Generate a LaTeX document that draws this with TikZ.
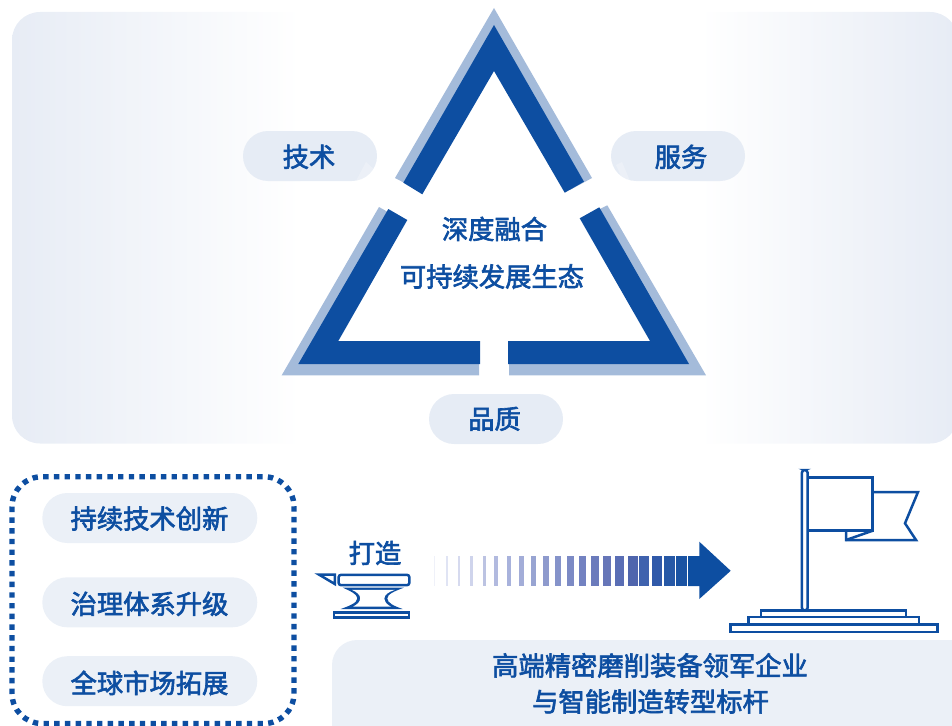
\documentclass[tikz,border=0pt]{standalone}
\usepackage{fontspec}
\newfontfamily\cjk[FakeBold=2.4]{Noto Sans CJK SC}
\definecolor{bluedk}{HTML}{0D4EA1}
\definecolor{bluelt}{HTML}{A4BBDA}
\definecolor{pillc}{HTML}{E6ECF5}
\definecolor{pillb}{HTML}{EBF0F7}
\definecolor{panelc}{HTML}{E7ECF5}
\tikzset{
 lbl/.style={font=\cjk\fontsize{26.3}{28}\selectfont,text=bluedk,inner sep=0pt,text height=23.1pt,text depth=2.1pt,anchor=center},
 pill/.style={fill=pillc,rounded corners=25pt,minimum height=50pt,inner sep=0pt,anchor=center},
 ln/.style={draw=bluedk,line width=2.5pt},
 lnfill/.style={draw=bluedk,line width=2.5pt,fill=white},
 dk/.style={fill=bluedk},
 lt/.style={fill=bluelt},
}
\begin{document}
\begin{tikzpicture}[x=1pt,y=-1pt]
\useasboundingbox (0,0) rectangle (952,725);
% panel
\begin{scope}
\clip[rounded corners=28pt] (12,12) rectangle (958,443.5);
\path[left color=panelc,right color=white] (12,12) rectangle (300,444);
\path[left color=white,right color=panelc] (700,12) rectangle (952,444);
\end{scope}
% triangle, light
\path[lt] (494,8) -- (592,178) -- (570,190) -- (494,60) -- (418,190) -- (395,178) -- cycle;
\path[lt] (379,207) -- (395,216) -- (320,345) -- (479,345) -- (479,375.3) -- (281.7,375.3) -- cycle;
\path[lt] (607.3,205.3) -- (706,375.3) -- (509,375.3) -- (509,345) -- (670,345) -- (590,214) -- cycle;
% triangle, dark
\path[dk] (494,25) -- (584,181.7) -- (564.7,192.7) -- (494,71) -- (422.3,194.3) -- (403.3,182.7) -- cycle;
\path[dk] (388.3,209) -- (407.3,220) -- (338.3,341) -- (480,341) -- (480,364) -- (298.3,364) -- cycle;
\path[dk] (599.3,207.3) -- (689,364) -- (508,364) -- (508,341) -- (650,341) -- (579.7,218.3) -- cycle;
\node[lbl] (t0a) at (494.5,228.5) {深度融合};
\node[lbl] (t0b) at (492,276) {可持续发展生态};
% pills
\node[pill,minimum width=134pt] (p1) at (310,156) {};
\node[pill,minimum width=134pt] (p2) at (678,156) {};
\node[pill,minimum width=134pt] (p3) at (496,419) {};
\path[fill=white,opacity=.25] (356,181) -- (366,162) -- (377,172) -- (366,181) -- cycle;
\path[fill=white,opacity=.25] (616,165) -- (622,162) -- (630,181) -- (622,178) -- cycle;
\node[lbl] (t1) at (309,156.3) {技术};
\node[lbl] (t2) at (681,156.3) {服务};
\node[lbl] (t3) at (494.5,418.3) {品质};
% dotted box
\draw[bluedk,line width=5.4pt,dash pattern=on 5.4pt off 5.3pt,rounded corners=30pt] (12,476.7) rectangle (294,723.5);
\node[pill,fill=pillb,minimum width=215pt] (a1) at (149.8,518) {};
\node[pill,fill=pillb,minimum width=215pt] (a2) at (149.8,602.3) {};
\node[pill,fill=pillb,minimum width=215pt] (a3) at (149.8,681.2) {};
\node[lbl] (b1) at (149.5,518) {持续技术创新};
\node[lbl] (b2) at (149.5,603.3) {治理体系升级};
\node[lbl] (b3) at (149.5,682.5) {全球市场拓展};
% forging
\node[lbl] (forge) at (375,552.5) {打造};
\draw[ln,rounded corners=2.5pt] (338.6,574.8) rectangle (409.4,585.2);
\draw[ln,line join=miter,fill=white] (319,574.6) -- (334.8,574.6) -- (334.8,584) -- cycle;
\path[fill=bluedk] (342.7,587.6) -- (404,587.6) .. controls (395,591) and (387.3,594) .. (387.3,598.3) .. controls (387.3,603) and (394,606) .. (402.7,609) -- (340.7,609) .. controls (349,606) and (357.3,603) .. (357.3,598.3) .. controls (357.3,594) and (350,591) .. (342.7,587.6) -- cycle;
\path[fill=white] (352,589.9) -- (395,589.9) .. controls (388,592) and (384.4,595) .. (384.4,598.3) .. controls (384.4,602) and (387,604.5) .. (391,606.7) -- (353,606.7) .. controls (357,604.5) and (360.2,602) .. (360.2,598.3) .. controls (360.2,595) and (357,592) .. (352,589.9) -- cycle;
\draw[ln] (334.2,612.6) rectangle (409.2,617.6);
% arrow
\foreach \a/\b/\c in {434/435.2/EFF1F9,446/448/E0E4F4,458/460/D6DAEF,470/473/CFD4EC,482.7/486/BCC3E2,494/498/B2BADF,507/511/A8B2DC,519/524/A3ADD8,531/536/98A4D2,543/549/8E9ACD,555/561/8593CA,567/574/7C8AC5,579/586/7382C1,591/599/6B7BBC,603/611/6676B8,615/624/5A6EB5,628/638/4F65AD,639/649/3F62AE,652/662/3059A9,664/675/2658A6,676/687/1A53A3}{
 \definecolor{barc}{HTML}{\c}
 \path[fill=barc] (\a,556) rectangle (\b,586);
}
\path[dk] (688,556) -- (699.3,556) -- (699.3,541.7) -- (730.7,570.8) -- (699.3,599) -- (699.3,586) -- (688,586) -- cycle;
% flag
\draw[ln,line join=miter] (872.7,492) -- (918,492) -- (905,523.3) -- (916,540) -- (846,540) -- (846,530.7);
\draw[ln] (846,540) -- (872.7,530.7);
\draw[ln] (807.7,477.7) rectangle (872.7,530.7);
\draw[lnfill,rounded corners=3pt] (801.8,470) rectangle (807.7,610.5);
\draw[ln] (761,610.5) rectangle (906,617);
\draw[ln] (748.5,617) rectangle (919,624.5);
\draw[ln] (730.5,624.5) rectangle (937.5,632);
% result pill
\path[fill=pillb,rounded corners=25pt] (332,640) rectangle (985,760);
\node[lbl] (r1) at (650,665) {高端精密磨削装备领军企业};
\node[lbl] (r2) at (650.5,701) {与智能制造转型标杆};
\end{tikzpicture}
\end{document}
